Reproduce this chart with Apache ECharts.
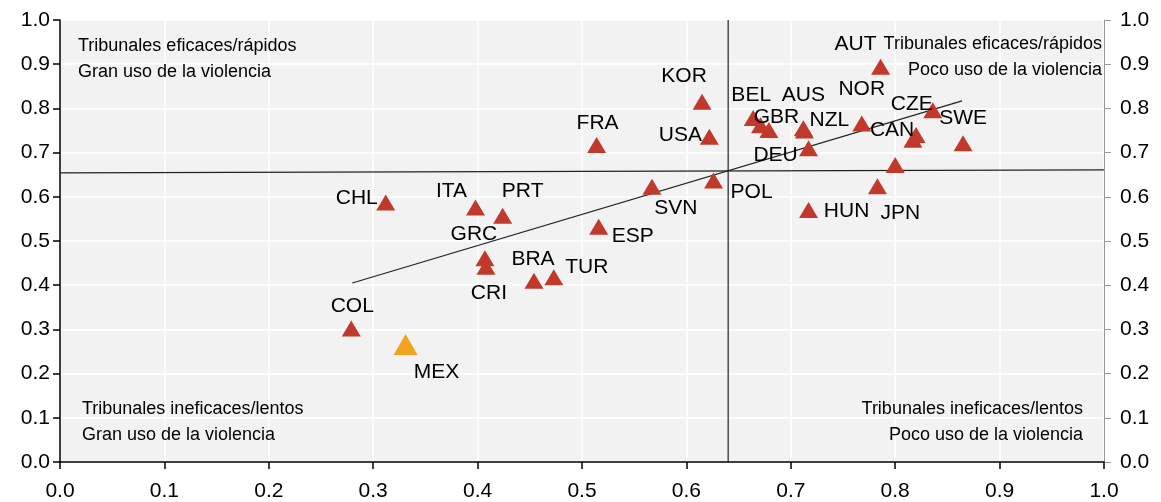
<!DOCTYPE html>
<html><head><meta charset="utf-8">
<script src="https://cdn.jsdelivr.net/npm/echarts@6/dist/echarts.min.js"></script>
<style>html,body{margin:0;padding:0;background:#fff}#c{width:1161px;height:502px}</style>
</head><body><div id="c"></div>
<script>
// Country codes (empty = unlabeled point)
var countries = ['AUT','KOR','FRA','USA','BEL','GBR','','AUS','NZL','DEU','NOR','CZE','CAN','','SWE','','JPN','HUN','POL','SVN','CHL','ITA','PRT','GRC','CRI','BRA','TUR','ESP','COL'];
var xValues = [0.786,0.615,0.514,0.622,0.664,0.671,0.679,0.712,0.713,0.717,0.768,0.836,0.820,0.817,0.865,0.800,0.783,0.717,0.626,0.567,0.312,0.398,0.424,0.407,0.408,0.454,0.473,0.516,0.279];
var yValues = [0.894,0.815,0.717,0.736,0.778,0.762,0.751,0.755,0.750,0.710,0.766,0.796,0.740,0.729,0.721,0.672,0.624,0.570,0.637,0.623,0.587,0.576,0.557,0.461,0.442,0.410,0.418,0.532,0.302];
var mexName = 'MEX';
var mexX = [0.331];
var mexY = [0.266];
var trendX = [0.280, 0.864];
var trendY = [0.405, 0.817];
var meanX = 0.640;
var meanYLeft = 0.654, meanYRight = 0.661;
var quadrantTexts = {
  tl: ['Tribunales eficaces/rápidos','Gran uso de la violencia'],
  tr: ['Tribunales eficaces/rápidos','Poco uso de la violencia'],
  bl: ['Tribunales ineficaces/lentos','Gran uso de la violencia'],
  br: ['Tribunales ineficaces/lentos','Poco uso de la violencia']
};

// label offsets (style only)
var labelOffsets = {
  AUT:[-25,-23], KOR:[-18,-26], FRA:[1,-22], USA:[-29,-1], BEL:[-2,-23], GBR:[16,-8],
  AUS:[0,-33], NZL:[25,-10], DEU:[-33,7], NOR:[0,-34], CZE:[-21,-6], CAN:[-24,-5],
  SWE:[0,-25], JPN:[23,27], HUN:[38,1], POL:[38,12], SVN:[24,22], CHL:[-29,-4],
  ITA:[-24,-16], PRT:[20,-25], GRC:[-11,-24], CRI:[3,27], BRA:[-1,-22], TUR:[33,-10],
  ESP:[34,9], COL:[1,-22], MEX:[31,28]
};
var FONT = "'Liberation Sans',Arial,sans-serif";

function mkLabel(name){
  if(!name) return {show:false};
  return {show:true, formatter:name, position:'inside', offset:labelOffsets[name]||[0,-20],
    color:'#000', fontSize:21, fontFamily:FONT, align:'center', verticalAlign:'middle'};
}
var pts = countries.map(function(n,i){
  return {name:n, value:[xValues[i], yValues[i]], label:mkLabel(n)};
});
var mexPts = mexX.map(function(x,i){return {name:mexName, value:[x, mexY[i]], label:mkLabel(mexName)};});

var axisLabelStyle = {color:'#000', fontSize:21, fontFamily:FONT, formatter:function(v){return v.toFixed(1);}};

function qText(txt, pos){
  return Object.assign({type:'text', z:100, style:{text:txt, fill:'#000', fontSize:18, fontFamily:FONT}}, pos);
}

var chart = echarts.init(document.getElementById('c'), null, {renderer:'canvas'});
chart.setOption({
  animation:false,
  grid:{left:60, right:57, top:20, bottom:40, show:true, backgroundColor:'#f2f2f2', borderWidth:0},
  xAxis:{type:'value', min:0, max:1, interval:0.1,
    axisLine:{show:true, lineStyle:{color:'#000', width:1.5}},
    axisTick:{show:true, length:7, lineStyle:{color:'#000', width:1.5}},
    axisLabel:Object.assign({margin:19}, axisLabelStyle),
    splitLine:{show:true, lineStyle:{color:'#fff', width:1.5}}},
  yAxis:[
    {type:'value', min:0, max:1, interval:0.1, position:'left',
      axisLine:{show:true, lineStyle:{color:'#000', width:1.5}},
      axisTick:{show:true, length:7, lineStyle:{color:'#000', width:1.5}},
      axisLabel:Object.assign({margin:10}, axisLabelStyle),
      splitLine:{show:true, lineStyle:{color:'#fff', width:1.5}}},
    {type:'value', min:0, max:1, interval:0.1, position:'right',
      axisLine:{show:true, lineStyle:{color:'#999', width:1}},
      axisTick:{show:true, length:7, lineStyle:{color:'#999', width:1}},
      axisLabel:Object.assign({margin:16}, axisLabelStyle),
      splitLine:{show:false}}
  ],
  graphic:[
    qText(quadrantTexts.tl[0], {left:78, top:37}),
    qText(quadrantTexts.tl[1], {left:78, top:63}),
    qText(quadrantTexts.tr[0], {right:59, top:35}),
    qText(quadrantTexts.tr[1], {right:59, top:61}),
    qText(quadrantTexts.bl[0], {left:82, top:400}),
    qText(quadrantTexts.bl[1], {left:82, top:426}),
    qText(quadrantTexts.br[0], {right:78, top:400}),
    qText(quadrantTexts.br[1], {right:78, top:426})
  ],
  series:[
    {type:'line', data:[[0,meanYLeft],[1,meanYRight]], symbol:'none', silent:true, z:3,
      lineStyle:{color:'#222', width:1.2}},
    {type:'line', data:[[meanX,0],[meanX,1]], symbol:'none', silent:true, z:3,
      lineStyle:{color:'#222', width:1.2}},
    {type:'line', data:[[trendX[0],trendY[0]],[trendX[1],trendY[1]]], symbol:'none', silent:true, z:3,
      lineStyle:{color:'#222', width:1.2}},
    {type:'scatter', data:pts, symbol:'triangle', symbolSize:[19,16], z:4,
      itemStyle:{color:'#C0392B', opacity:1}},
    {type:'scatter', data:mexPts, symbol:'triangle', symbolSize:[24,21], z:4,
      itemStyle:{color:'#F0A31E', opacity:1}}
  ]
});
</script></body></html>
